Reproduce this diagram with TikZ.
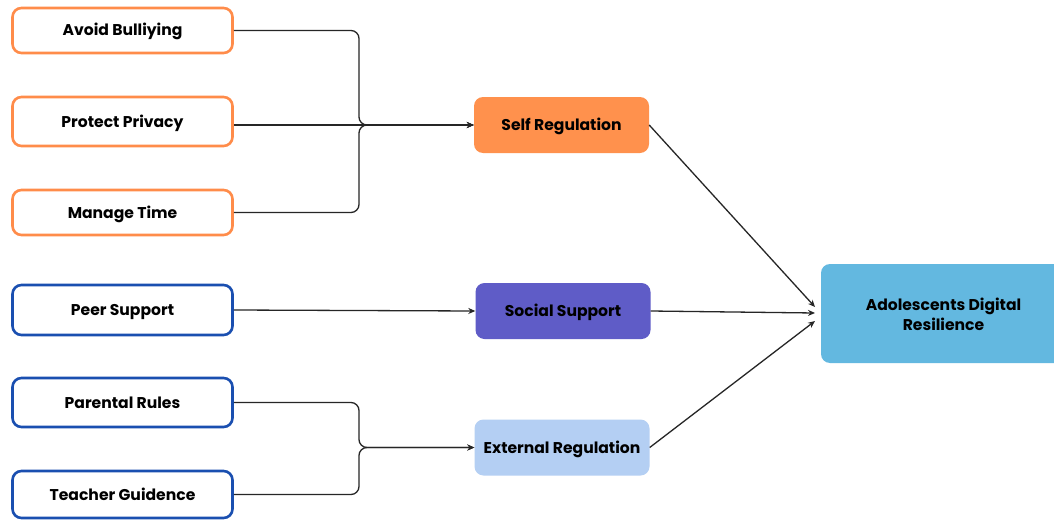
\documentclass[tikz,border=0pt]{standalone}
\usepackage{fontspec}
\setmainfont{Poppins}[UprightFont=* Bold]
\usetikzlibrary{arrows.meta}
\definecolor{orng}{HTML}{FF8C4A}
\definecolor{blu}{HTML}{1A4FB0}
\definecolor{selfc}{HTML}{FF914D}
\definecolor{socc}{HTML}{5F5CC7}
\definecolor{extc}{HTML}{B4CFF3}
\definecolor{adoc}{HTML}{63B8E0}
\begin{document}
\begin{tikzpicture}[x=1pt,y=-1pt,
  every node/.style={font=\fontsize{15.6}{20}\selectfont, text=black},
  capc/.style={text height=11pt, text depth=0pt},
  leftbox/.style={capc, draw, line width=2.6pt, rounded corners=9pt, minimum width=220pt, inner sep=0pt, fill=white},
  obox/.style={leftbox, draw=orng},
  bbox/.style={leftbox, draw=blu},
  midbox/.style={capc, rounded corners=9pt, minimum width=175pt, minimum height=56pt, inner sep=0pt},
  conn/.style={draw=black!85, line width=1.3pt, -{Stealth[length=7pt,width=6pt]}},
  brace/.style={conn, rounded corners=8pt}]
\useasboundingbox (0,0) rectangle (1054,519);
\fill[white] (0,0) rectangle (1054,519);
% left boxes
\node[obox, minimum height=45pt] (ab) at (122.5,30.5) {Avoid Bulliying};
\node[obox, minimum height=49pt] (pp) at (122.5,121.5) {Protect Privacy};
\node[obox, minimum height=45pt] (mt) at (122.5,212.5) {Manage Time};
\node[bbox, minimum height=50pt] (ps) at (122.5,310) {Peer Support};
\node[bbox, minimum height=49pt] (pr) at (122.5,402.5) {Parental Rules};
\node[bbox, minimum height=47pt] (tg) at (122.5,494.5) {Teacher Guidence};
% middle boxes
\node[midbox, fill=selfc] (sr) at (561.5,125) {Self Regulation};
\node[midbox, fill=socc] (ss) at (563,311) {Social Support};
\node[midbox, fill=extc] (er) at (562,447.5) {External Regulation};
% right box
\node[rounded corners=9pt, fill=adoc, minimum width=250pt, minimum height=99pt, inner sep=0pt] (ad) at (946,313.5) {};
\node[align=center, inner sep=0pt] (adt) at (943.5,314) {Adolescents Digital\\Resilience};
% arrow targets
\coordinate (t1) at (815,307);
\coordinate (t2) at (815,313);
\coordinate (t3) at (815,321);
% connectors
\draw[brace] (ab.east) -| (359,125) -- (sr.west);
\draw[conn] (pp.east |- sr.west) -- (sr.west);
\draw[brace] (mt.east) -| (359,125) -- (sr.west);
\draw[conn] (ps.east) -- (ss.west);
\draw[brace] (pr.east) -| (359,447.5) -- (er.west);
\draw[brace] (tg.east) -| (359,447.5) -- (er.west);
\draw[conn] (sr.east) -- (t1);
\draw[conn] (ss.east) -- (t2);
\draw[conn] (er.east) -- (t3);
\end{tikzpicture}
\end{document}
